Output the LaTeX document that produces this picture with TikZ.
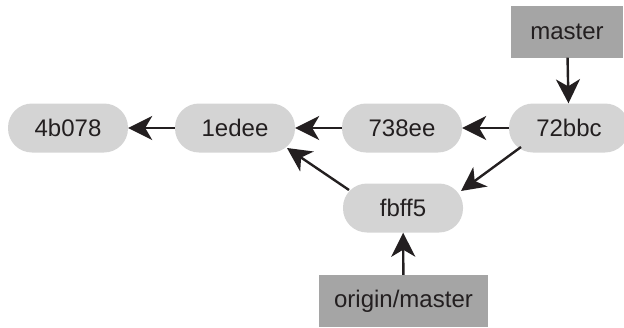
\documentclass[tikz,border=0pt]{standalone}
\usepackage{fontspec}
\setmainfont{Liberation Sans}
\usetikzlibrary{arrows.meta,calc}
\definecolor{commitgray}{HTML}{D4D4D4}
\definecolor{refgray}{HTML}{A5A5A5}
\definecolor{inkc}{HTML}{231F20}
\begin{document}
\begin{tikzpicture}[x=1pt,y=-1pt,
  commit/.style={fill=commitgray,draw=none,rounded corners=24pt,minimum width=120pt,minimum height=49pt,inner sep=0pt,font=\fontsize{24}{28}\selectfont,text=inkc},
  refbox/.style={fill=refgray,draw=none,minimum height=52pt,inner sep=0pt,font=\fontsize{24}{28}\selectfont,text=inkc},
  link/.style={draw=inkc,line width=2.4pt,-{Stealth[length=24pt,width=24pt,inset=7pt]}}]
\useasboundingbox (0,0) rectangle (624,327);
\node[commit] (c4b) at (68,128) {4b078};
\node[commit] (c1e) at (235,128) {1edee};
\node[commit] (c73) at (402,128) {738ee};
\node[commit] (c72) at (569,128) {72bbc};
\node[commit] (cfb) at (403,208) {fbff5};
\node[refbox,minimum width=112pt] (master) at (567,31.5) {master};
\node[refbox,minimum width=169pt] (origin) at (403.5,301) {origin/master};
\draw[link] (c1e) -- (c4b);
\draw[link] (c73) -- (c1e);
\draw[link] (c72) -- (c73);
\draw[link] (master) -- (c72);
\draw[link] (origin) -- (cfb);
\coordinate (a1) at ($(c72.center)+(-48,19)$);
\coordinate (a2) at ($(cfb.center)+(58,-17)$);
\coordinate (b1) at ($(cfb.center)+(-54,-18)$);
\coordinate (b2) at ($(c1e.center)+(52,20)$);
\draw[link] (a1) -- (a2);
\draw[link] (b1) -- (b2);
\end{tikzpicture}
\end{document}
